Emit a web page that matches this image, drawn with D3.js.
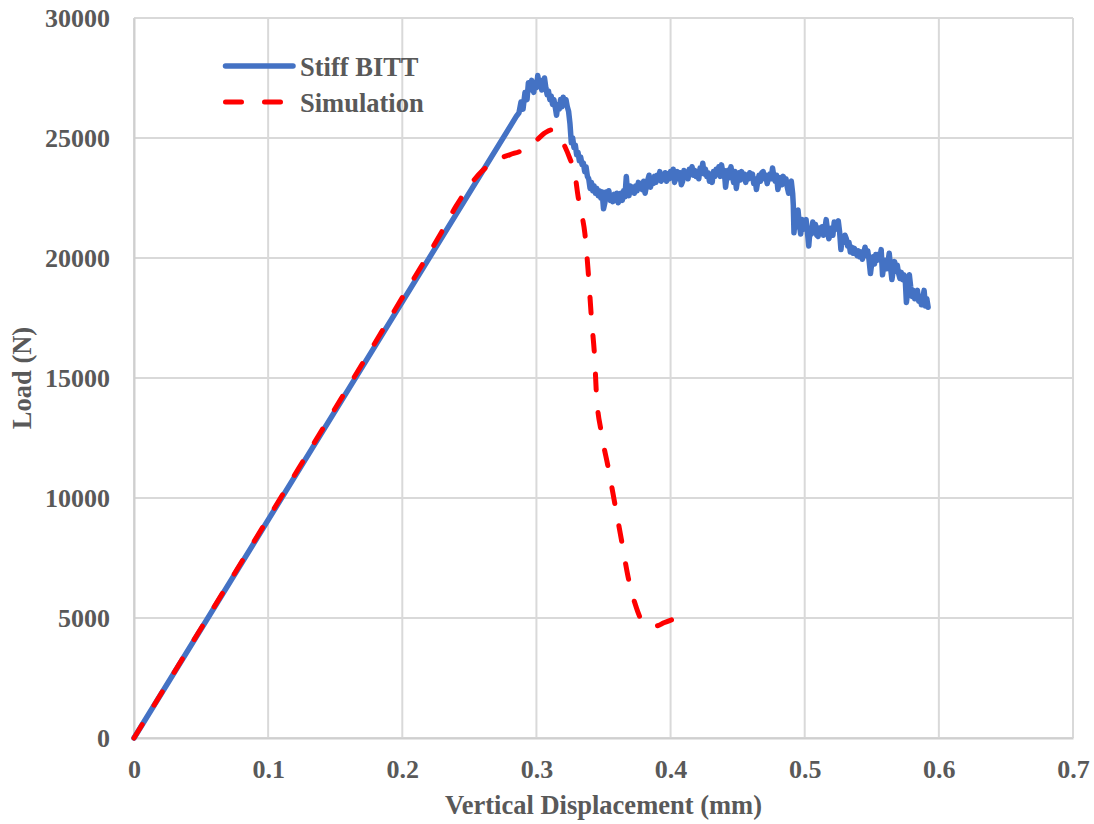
<!DOCTYPE html>
<html>
<head>
<meta charset="utf-8">
<script src="https://cdn.jsdelivr.net/npm/d3@7"></script>
<style>
  html, body { margin: 0; padding: 0; background: #fff; }
  svg { display: block; }
  text { font-family: "Liberation Serif", "Times New Roman", serif; font-weight: bold; fill: #595959; }
</style>
</head>
<body>
<svg id="chart" width="1094" height="824"></svg>
<script>
// Axis ticks
const xTicks = [0, 0.1, 0.2, 0.3, 0.4, 0.5, 0.6, 0.7];
const yTicks = [0, 5000, 10000, 15000, 20000, 25000, 30000];

// Series names
const seriesNames = ["Stiff BITT", "Simulation"];

// Stiff BITT test: displacement (mm) and load (N)
const bittDisp = [
  0, 0.285, 0.287, 0.2885, 0.290, 0.2915, 0.293, 0.294, 0.295, 0.2965, 0.298, 0.299,
  0.300, 0.301, 0.302, 0.303, 0.304, 0.305, 0.306, 0.307, 0.308, 0.309,
  0.310, 0.311, 0.312, 0.313, 0.314, 0.315, 0.316, 0.317, 0.318, 0.319,
  0.320, 0.321, 0.322, 0.323, 0.324, 0.325, 0.326, 0.327, 0.328, 0.329,
  0.330, 0.331, 0.332, 0.333, 0.334, 0.335, 0.336, 0.337, 0.338, 0.339,
  0.340, 0.341, 0.342, 0.343, 0.344, 0.345, 0.346, 0.347, 0.348, 0.349,
  0.350, 0.351, 0.352, 0.353, 0.354, 0.355, 0.356, 0.357, 0.358, 0.359,
  0.360, 0.361, 0.362, 0.363, 0.364, 0.365, 0.366, 0.367, 0.368, 0.369,
  0.370, 0.371, 0.372, 0.373, 0.374, 0.375, 0.376, 0.377, 0.378, 0.379,
  0.380, 0.381, 0.382, 0.383, 0.384, 0.385, 0.386, 0.387, 0.388, 0.389,
  0.390, 0.391, 0.392, 0.393, 0.394, 0.395, 0.396, 0.397, 0.398, 0.399,
  0.400, 0.401, 0.402, 0.403, 0.404, 0.405, 0.406, 0.407, 0.408, 0.409,
  0.410, 0.411, 0.412, 0.413, 0.414, 0.415, 0.416, 0.417, 0.418, 0.419,
  0.420, 0.421, 0.422, 0.423, 0.424, 0.425, 0.426, 0.427, 0.428, 0.429,
  0.430, 0.431, 0.432, 0.433, 0.434, 0.435, 0.436, 0.437, 0.438, 0.439,
  0.440, 0.441, 0.442, 0.443, 0.444, 0.445, 0.446, 0.447, 0.448, 0.449,
  0.450, 0.451, 0.452, 0.453, 0.454, 0.455, 0.456, 0.457, 0.458, 0.459,
  0.460, 0.461, 0.462, 0.463, 0.464, 0.465, 0.466, 0.467, 0.468, 0.469,
  0.470, 0.471, 0.472, 0.473, 0.474, 0.475, 0.476, 0.477, 0.478, 0.479,
  0.480, 0.481, 0.482, 0.483, 0.484, 0.485, 0.486, 0.487, 0.488, 0.489,
  0.490, 0.491, 0.4915, 0.492, 0.493, 0.494, 0.495, 0.496, 0.497, 0.498, 0.499,
  0.500, 0.501, 0.502, 0.503, 0.504, 0.505, 0.506, 0.507, 0.508, 0.509,
  0.510, 0.511, 0.512, 0.513, 0.514, 0.515, 0.516, 0.517, 0.518, 0.519,
  0.520, 0.521, 0.522, 0.523, 0.524, 0.525, 0.526, 0.527, 0.528, 0.529,
  0.530, 0.531, 0.532, 0.533, 0.534, 0.535, 0.536, 0.537, 0.538, 0.539,
  0.540, 0.541, 0.542, 0.543, 0.544, 0.545, 0.546, 0.547, 0.548, 0.549,
  0.550, 0.551, 0.552, 0.553, 0.554, 0.555, 0.556, 0.557, 0.558, 0.559,
  0.560, 0.561, 0.562, 0.563, 0.564, 0.565, 0.566, 0.567, 0.568, 0.569,
  0.570, 0.571, 0.572, 0.573, 0.574, 0.575, 0.5758, 0.577, 0.578, 0.579,
  0.580, 0.581, 0.582, 0.583, 0.584, 0.585, 0.586, 0.587, 0.588, 0.589,
  0.590, 0.591, 0.592
];
const bittLoad = [
  0, 25900, 26050, 26500, 26200, 26900, 26600, 27300, 27000, 27400, 26900, 27300,
  27100, 27600, 27200, 27400, 27000, 27300, 27500, 27100, 26800, 26950,
  26600, 26750, 26400, 26600, 26300, 25950, 26400, 26200, 26600, 26300,
  26700, 26400, 26600, 26300, 26100, 25600, 24800, 25000, 24600, 24700,
  24300, 24400, 24050, 24200, 23900, 23950, 23600, 23800, 23400, 23300,
  22900, 23150, 22800, 23000, 22700, 22900, 22600, 22800, 22500, 22750,
  22050, 22300, 22750, 22500, 22800, 22400, 22600, 22350, 22650, 22400,
  22700, 22300, 22500, 22700, 22400, 22800, 22550, 23400, 22700, 22600,
  23000, 22750, 22950, 22700, 23000, 22800, 23150, 22900, 23100, 22850,
  23200, 22700, 23000, 23250, 23450, 22950, 23300, 23100, 23400, 23150,
  23450, 23250, 23600, 23200, 23450, 23300, 23550, 23200, 23500, 23300,
  23600, 23350, 23700, 23150, 23500, 23600, 23300, 23550, 23050, 23200,
  23650, 23400, 23550, 23300, 23700, 23500, 23800, 23450, 23650, 23400,
  23500, 23300, 23750, 23600, 23950, 23500, 23700, 23400, 23550, 23200,
  23450, 23150, 23600, 23400, 23700, 23500, 23800, 23400, 23880, 23550,
  23650, 22950, 23400, 23650, 23350, 23800, 23450, 23150, 23600, 22900,
  23300, 23550, 23250, 23600, 23350, 23500, 23150, 23450, 23300, 23550,
  23350, 23500, 23100, 23300, 22850, 23200, 23450, 23200, 23550, 23600,
  23300, 23450, 23100, 23350, 23500, 23300, 23750, 23400, 23200, 23450,
  22850, 23150, 23350, 23050, 23400, 23150, 23300, 22950, 22700, 23100,
  23200, 22700, 22200, 21050, 21800, 21300, 22000, 21400, 21000, 21600, 21200,
  21500, 21600, 21100, 20500, 21200, 21000, 21500, 21150, 21400, 20950,
  20900, 21250, 21050, 21300, 20950, 21200, 21600, 21150, 20800, 21000,
  21250, 20950, 21500, 21200, 21450, 21550, 21100, 20350, 20900, 20650,
  20950, 20800, 20500, 20650, 20250, 20450, 20200, 20400, 20300, 20100,
  20300, 20050, 20250, 19950, 20200, 20450, 20100, 20300, 19900, 19350,
  19800, 20050, 19750, 20150, 19900, 20150, 19950, 20350, 19300, 19700,
  19900, 19550, 19800, 20200, 19600, 19100, 19500, 19850, 19450, 19700,
  19350, 19150, 19400, 19100, 19300, 19050, 18150, 18700, 19300, 18800,
  18400, 18650, 18300, 18550, 18650, 18200, 18400, 18050, 18300, 18650,
  18000, 18300, 17950
];

// Simulation: displacement (mm) and load (N)
const simDisp = [
  0, 0.1, 0.2, 0.23, 0.24, 0.25, 0.26, 0.27, 0.28, 0.29, 0.30, 0.306, 0.311,
  0.3155, 0.3187, 0.3249, 0.3286, 0.3311, 0.3336, 0.3361, 0.3385, 0.3411,
  0.3435, 0.3447, 0.3485, 0.3534, 0.3584, 0.3634, 0.3683, 0.3735, 0.3775,
  0.3830, 0.3895, 0.3950, 0.4007
];
const simLoad = [
  0, 9150, 18350, 21150, 22150, 23000, 23650, 24080, 24300, 24500, 24900, 25200, 25330,
  25200, 24920, 24150, 23530, 22550, 21860, 21030, 19500, 17420,
  15750, 14360, 12700, 11300, 9780, 8250, 6720, 5600, 5000,
  4700, 4670, 4800, 4920
];

const svg = d3.select("#chart");
const plot = { left: 134, right: 1073, top: 18, bottom: 738 };

const x = d3.scaleLinear().domain([0, 0.7]).range([plot.left, plot.right]);
const y = d3.scaleLinear().domain([0, 30000]).range([plot.bottom, plot.top]);

const gridColor = "#d9d9d9";
const fontSize = 26;

// Gridlines
svg.append("g")
  .selectAll("line.vgrid")
  .data(xTicks)
  .join("line")
  .attr("x1", d => x(d)).attr("x2", d => x(d))
  .attr("y1", plot.top).attr("y2", plot.bottom)
  .attr("stroke", gridColor).attr("stroke-width", 2);

svg.append("g")
  .selectAll("line.hgrid")
  .data(yTicks)
  .join("line")
  .attr("x1", plot.left).attr("x2", plot.right)
  .attr("y1", d => y(d)).attr("y2", d => y(d))
  .attr("stroke", gridColor).attr("stroke-width", 2);

// Axes (labels only; lines come from the grid)
const xAxis = svg.append("g")
  .attr("transform", `translate(0,${plot.bottom})`)
  .call(d3.axisBottom(x).tickValues(xTicks).tickSize(0).tickPadding(0)
    .tickFormat(d => d === 0 ? "0" : d3.format(".1f")(d)));
xAxis.select(".domain").attr("stroke", "#cfcfcf").attr("stroke-width", 2);
xAxis.selectAll("text")
  .attr("y", 40).attr("dy", null)
  .style("font-size", fontSize + "px")
  .style("font-family", "'Liberation Serif', serif")
  .style("font-weight", "bold")
  .attr("fill", "#595959");

const yAxis = svg.append("g")
  .attr("transform", `translate(${plot.left},0)`)
  .call(d3.axisLeft(y).tickValues(yTicks).tickSize(0).tickPadding(0)
    .tickFormat(d3.format("d")));
yAxis.select(".domain").attr("stroke", "#cfcfcf").attr("stroke-width", 2);
yAxis.selectAll("text")
  .attr("x", -24).attr("dy", "0.34em")
  .style("font-size", fontSize + "px")
  .style("font-family", "'Liberation Serif', serif")
  .style("font-weight", "bold")
  .attr("fill", "#595959");

// Axis titles
svg.append("text")
  .attr("x", (plot.left + plot.right) / 2)
  .attr("y", 814)
  .attr("text-anchor", "middle")
  .style("font-size", "26.5px")
  .text("Vertical Displacement (mm)");

svg.append("text")
  .attr("transform", `translate(31,${(plot.top + plot.bottom) / 2}) rotate(-90)`)
  .attr("text-anchor", "middle")
  .style("font-size", "26.5px")
  .text("Load (N)");

// Series lines
const line = d3.line().x(d => x(d[0])).y(d => y(d[1]));
const smooth = d3.line().curve(d3.curveMonotoneX).x(d => x(d[0])).y(d => y(d[1]));
const bitt = bittDisp.map((d, i) => [d, bittLoad[i]]);
const sim = simDisp.map((d, i) => [d, simLoad[i]]);

const blue = "#4472C4";
const red = "#FF0000";
const dashLen = 16, gapLen = 23;
const dash = `${dashLen},${gapLen}`;

svg.append("path")
  .datum(bitt)
  .attr("d", line)
  .attr("fill", "none")
  .attr("stroke", blue)
  .attr("stroke-width", 5.5)
  .attr("stroke-linejoin", "round")
  .attr("stroke-linecap", "round");

const simPath = svg.append("path")
  .datum(sim)
  .attr("d", smooth)
  .attr("fill", "none")
  .attr("stroke", red)
  .attr("stroke-width", 5)
  .attr("stroke-linejoin", "round")
  .attr("stroke-linecap", "round");

// Stretch the dash pattern slightly so the line both starts and ends on a dash
const simLen = simPath.node().getTotalLength();
const nPeriods = Math.max(1, Math.round((simLen + gapLen) / (dashLen + gapLen)));
const k = (simLen + gapLen) / (nPeriods * (dashLen + gapLen));
simPath.attr("stroke-dasharray", `${dashLen * k},${gapLen * k}`);

// Legend
const legend = svg.append("g");
const legendRows = [
  { name: seriesNames[0], color: blue, dashed: false, y: 66 },
  { name: seriesNames[1], color: red, dashed: true, y: 102 }
];
legendRows.forEach(r => {
  legend.append("line")
    .attr("x1", 225.5).attr("x2", r.dashed ? 280.5 : 293)
    .attr("y1", r.y).attr("y2", r.y)
    .attr("stroke", r.color)
    .attr("stroke-width", r.dashed ? 5 : 5.5)
    .attr("stroke-linecap", "round")
    .attr("stroke-dasharray", r.dashed ? dash : null);
  legend.append("text")
    .attr("x", 300)
    .attr("y", r.y + 9.5)
    .style("font-size", "26.5px")
    .text(r.name);
});
</script>
</body>
</html>
